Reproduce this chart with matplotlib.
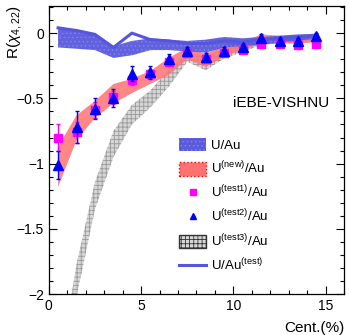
import numpy as np
import matplotlib
matplotlib.use('Agg')
from matplotlib import pyplot as plt
from matplotlib.patches import Patch
from matplotlib.lines import Line2D
from matplotlib.ticker import MultipleLocator, FuncFormatter

plt.rcParams['font.family'] = ['Liberation Sans', 'DejaVu Sans']
plt.rcParams['mathtext.fontset'] = 'custom'
plt.rcParams['mathtext.rm'] = 'Liberation Sans'
plt.rcParams['mathtext.it'] = 'Liberation Sans:italic'
plt.rcParams['hatch.linewidth'] = 0.6

cent = [0.5, 1.5, 2.5, 3.5, 4.5, 5.5, 6.5, 7.5, 8.5, 9.5, 10.5, 11.5, 12.5, 13.5, 14.5]

# U/Au band (upper / lower edge)
uau_hi = [0.05, 0.02, -0.005, -0.10, -0.06, -0.04, -0.05, -0.06, -0.05, -0.03, -0.04, -0.03, -0.02, -0.01, -0.005]
uau_lo = [-0.11, -0.12, -0.13, -0.19, -0.17, -0.13, -0.13, -0.14, -0.15, -0.11, -0.10, -0.09, -0.07, -0.06, -0.04]

# U(new)/Au band
new_hi = [-0.87, -0.63, -0.52, -0.39, -0.35, -0.29, -0.19, -0.11, -0.16, -0.09, -0.07, -0.01, -0.02, -0.02, -0.02]
new_lo = [-1.18, -0.82, -0.65, -0.54, -0.46, -0.39, -0.32, -0.20, -0.26, -0.18, -0.13, -0.08, -0.08, -0.08, -0.07]

# U(test3)/Au band
t3_hi = [-2.62, -1.77, -1.14, -0.75, -0.55, -0.44, -0.28, -0.145, -0.18, -0.12, -0.08, -0.03, -0.03, -0.02, -0.01]
t3_lo = [-3.10, -2.02, -1.35, -0.95, -0.70, -0.57, -0.41, -0.22, -0.285, -0.195, -0.145, -0.09, -0.08, -0.07, -0.06]

# U(test1)/Au points
t1_y = [-0.80, -0.76, -0.59, -0.49, -0.36, -0.31, -0.22, -0.15, -0.20, -0.15, -0.13, -0.08, -0.08, -0.09, -0.08]
t1_err = [0.10, 0.08, 0.06, 0.05, 0.04, 0.03, 0.03, 0.02, 0.02, 0.02, 0.02, 0.02, 0.02, 0.02, 0.02]

# U(test2)/Au points
t2_y = [-1.01, -0.72, -0.58, -0.50, -0.31, -0.30, -0.20, -0.14, -0.18, -0.14, -0.11, -0.035, -0.06, -0.06, -0.02]
t2_err = [0.11, 0.12, 0.08, 0.07, 0.06, 0.05, 0.04, 0.03, 0.03, 0.03, 0.03, 0.03, 0.02, 0.02, 0.02]

# U/Au(test) line
test_y = [0.04, 0.02, -0.01, -0.11, 0.0, -0.05, -0.06, -0.08, -0.08, -0.06, -0.07, -0.05, -0.04, -0.03, -0.02]

fig = plt.figure(figsize=(3.49, 3.35), dpi=100)
ax = fig.add_axes([0.140, 0.122, 0.846, 0.861])

c_blue = '#5a5ade'
c_red = '#ff7272'
c_gray = '#d6d6d6'

ax.fill_between(cent, t3_lo, t3_hi, facecolor=c_gray, edgecolor='#9a9a9a', hatch='++++', linewidth=0)
ax.fill_between(cent, new_lo, new_hi, facecolor=c_red, alpha=0.85, linewidth=0)
ax.fill_between(cent, uau_lo, uau_hi, facecolor=c_blue, edgecolor='#8080ee', hatch='....', linewidth=0, alpha=0.95)
ax.plot(cent, test_y, color='#5555dd', lw=2.2)

ax.errorbar(cent, t1_y, yerr=t1_err, fmt='s', color='#ff00ff', ms=6, elinewidth=1, capsize=1.5, zorder=4)
ax.errorbar(cent, t2_y, yerr=t2_err, fmt='^', color='#0000ff', ms=6.5, elinewidth=1, capsize=1.5, zorder=5)

ax.set_xlim(0, 16)
ax.set_ylim(-2, 0.21)

ax.xaxis.set_major_locator(MultipleLocator(5))
ax.xaxis.set_minor_locator(MultipleLocator(1))
ax.yaxis.set_major_locator(MultipleLocator(0.5))
ax.yaxis.set_minor_locator(MultipleLocator(0.1))
fmt = FuncFormatter(lambda v, p: ('%g' % v).replace('-', '\u2212'))
ax.xaxis.set_major_formatter(fmt)
ax.yaxis.set_major_formatter(fmt)
ax.tick_params(which='both', direction='in', top=True, right=True, labelsize=10, width=0.8)
ax.tick_params(which='major', length=6)
ax.tick_params(which='minor', length=3)
for s in ax.spines.values():
    s.set_linewidth(0.9)

ax.set_ylabel(r'R($\chi_{4,22}$)', loc='top', fontsize=11)
ax.yaxis.set_label_coords(-0.085, 1.0)
ax.set_xlabel('Cent.(%)', loc='right', fontsize=11, labelpad=6)

ax.text(0.95, 0.662, 'iEBE-VISHNU', transform=ax.transAxes, ha='right', va='center', fontsize=11)

handles = [
    Patch(facecolor=c_blue, edgecolor='#8080ee', hatch='....', linewidth=0),
    Patch(facecolor=c_red, edgecolor='red', linestyle=':', linewidth=1),
    Line2D([], [], marker='s', color='#ff00ff', ls='none', ms=5),
    Line2D([], [], marker='^', color='#0000ff', ls='none', ms=5),
    Patch(facecolor=c_gray, edgecolor='#333333', hatch='++++', linewidth=1),
    Line2D([], [], color='#5555dd', lw=2.2),
]
labels = ['U/Au', r'U$^{\rm (new)}$/Au', r'U$^{\rm (test1)}$/Au', r'U$^{\rm (test2)}$/Au',
          r'U$^{\rm (test3)}$/Au', r'U/Au$^{\rm (test)}$']
ax.legend(handles, labels, loc='upper left', bbox_to_anchor=(0.42, 0.565), frameon=False,
          fontsize=9.5, handlelength=2.0, handleheight=1.2, handletextpad=0.4, labelspacing=0.58,
          borderpad=0)

fig.savefig('out.png', dpi=100)
